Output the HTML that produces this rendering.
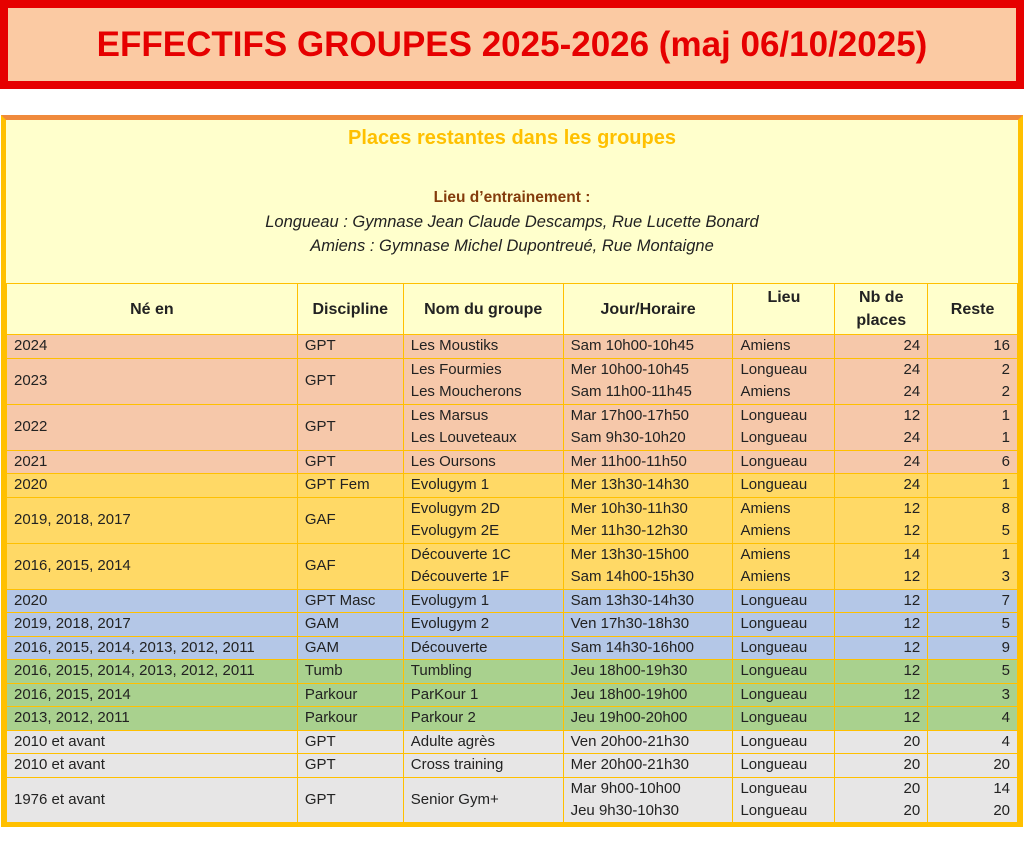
<!DOCTYPE html>
<html><head><meta charset="utf-8"><style>
body{margin:0;width:1024px;height:856px;background:#fff;font-family:"Liberation Sans",sans-serif;position:relative;overflow:hidden}
.title{position:absolute;left:0;top:0;width:1024px;height:89px;box-sizing:border-box;border:8px solid #e60000;background:#fbcaa3;text-align:center;color:#e60000;font-weight:bold;font-size:35px;line-height:73px}
.frame{position:absolute;left:1px;top:115px;width:1022px;height:712px;box-sizing:border-box;border:5px solid #ffc000;border-top-color:#f08a3c;background:#ffffcc;overflow:hidden}
.hdr{position:absolute;left:0;top:0;width:1012px;height:163px;text-align:center;font-size:15px}
.h1{position:absolute;top:7px;width:100%;color:#ffc000;font-weight:bold;font-size:20px}
.h2{position:absolute;top:69px;width:100%;color:#843c0c;font-weight:bold;font-size:15.5px}
.h3{position:absolute;top:90px;width:100%;font-style:italic;font-size:16.5px;line-height:24px;color:#222}
table{position:absolute;left:0;top:163px;border-collapse:collapse;table-layout:fixed;font-size:15px;color:#222}
td{border:1px solid #ffc000;padding:0 7px;line-height:22.5px;white-space:nowrap;overflow:hidden;vertical-align:middle}
th{border:1px solid #ffc000;font-weight:bold;font-size:16px;height:48px;padding:0;line-height:23px;background:#ffffcc}
.r{text-align:right}
.p td{background:#f6c8aa}.o td{background:#ffd966}.b td{background:#b4c7e7}.g td{background:#a9d18e}.y td{background:#e7e6e6}
</style></head><body>
<div class="title">EFFECTIFS GROUPES 2025-2026 (maj 06/10/2025)</div>
<div class="frame">
<div class="hdr">
<div class="h1">Places restantes dans les groupes</div>
<div class="h2">Lieu d’entrainement :</div>
<div class="h3">Longueau : Gymnase Jean Claude Descamps, Rue Lucette Bonard<br>Amiens : Gymnase Michel Dupontreué, Rue Montaigne</div>
</div>
<table>
<colgroup><col style="width:291px"><col style="width:106px"><col style="width:160px"><col style="width:170px"><col style="width:102px"><col style="width:93px"><col style="width:90px"></colgroup>
<tr><th>Né en</th><th>Discipline</th><th>Nom du groupe</th><th>Jour/Horaire</th><th style="vertical-align:top;padding-top:2px">Lieu</th><th>Nb de<br>places</th><th>Reste</th></tr>
<tr class="p"><td>2024</td><td>GPT</td><td>Les Moustiks</td><td>Sam 10h00-10h45</td><td>Amiens</td><td class="r">24</td><td class="r">16</td></tr>
<tr class="p"><td>2023</td><td>GPT</td><td>Les Fourmies<br>Les Moucherons</td><td>Mer 10h00-10h45<br>Sam 11h00-11h45</td><td>Longueau<br>Amiens</td><td class="r">24<br>24</td><td class="r">2<br>2</td></tr>
<tr class="p"><td>2022</td><td>GPT</td><td>Les Marsus<br>Les Louveteaux</td><td>Mar 17h00-17h50<br>Sam 9h30-10h20</td><td>Longueau<br>Longueau</td><td class="r">12<br>24</td><td class="r">1<br>1</td></tr>
<tr class="p"><td>2021</td><td>GPT</td><td>Les Oursons</td><td>Mer 11h00-11h50</td><td>Longueau</td><td class="r">24</td><td class="r">6</td></tr>
<tr class="o"><td>2020</td><td>GPT Fem</td><td>Evolugym 1</td><td>Mer 13h30-14h30</td><td>Longueau</td><td class="r">24</td><td class="r">1</td></tr>
<tr class="o"><td>2019, 2018, 2017</td><td>GAF</td><td>Evolugym 2D<br>Evolugym 2E</td><td>Mer 10h30-11h30<br>Mer 11h30-12h30</td><td>Amiens<br>Amiens</td><td class="r">12<br>12</td><td class="r">8<br>5</td></tr>
<tr class="o"><td>2016, 2015, 2014</td><td>GAF</td><td>Découverte 1C<br>Découverte 1F</td><td>Mer 13h30-15h00<br>Sam 14h00-15h30</td><td>Amiens<br>Amiens</td><td class="r">14<br>12</td><td class="r">1<br>3</td></tr>
<tr class="b"><td>2020</td><td>GPT Masc</td><td>Evolugym 1</td><td>Sam 13h30-14h30</td><td>Longueau</td><td class="r">12</td><td class="r">7</td></tr>
<tr class="b"><td>2019, 2018, 2017</td><td>GAM</td><td>Evolugym 2</td><td>Ven 17h30-18h30</td><td>Longueau</td><td class="r">12</td><td class="r">5</td></tr>
<tr class="b"><td>2016, 2015, 2014, 2013, 2012, 2011</td><td>GAM</td><td>Découverte</td><td>Sam 14h30-16h00</td><td>Longueau</td><td class="r">12</td><td class="r">9</td></tr>
<tr class="g"><td>2016, 2015, 2014, 2013, 2012, 2011</td><td>Tumb</td><td>Tumbling</td><td>Jeu 18h00-19h30</td><td>Longueau</td><td class="r">12</td><td class="r">5</td></tr>
<tr class="g"><td>2016, 2015, 2014</td><td>Parkour</td><td>ParKour 1</td><td>Jeu 18h00-19h00</td><td>Longueau</td><td class="r">12</td><td class="r">3</td></tr>
<tr class="g"><td>2013, 2012, 2011</td><td>Parkour</td><td>Parkour 2</td><td>Jeu 19h00-20h00</td><td>Longueau</td><td class="r">12</td><td class="r">4</td></tr>
<tr class="y"><td>2010 et avant</td><td>GPT</td><td>Adulte agrès</td><td>Ven 20h00-21h30</td><td>Longueau</td><td class="r">20</td><td class="r">4</td></tr>
<tr class="y"><td>2010 et avant</td><td>GPT</td><td>Cross training</td><td>Mer 20h00-21h30</td><td>Longueau</td><td class="r">20</td><td class="r">20</td></tr>
<tr class="y"><td>1976 et avant</td><td>GPT</td><td>Senior Gym+</td><td>Mar 9h00-10h00<br>Jeu 9h30-10h30</td><td>Longueau<br>Longueau</td><td class="r">20<br>20</td><td class="r">14<br>20</td></tr>
</table>
</div>
</body></html>
